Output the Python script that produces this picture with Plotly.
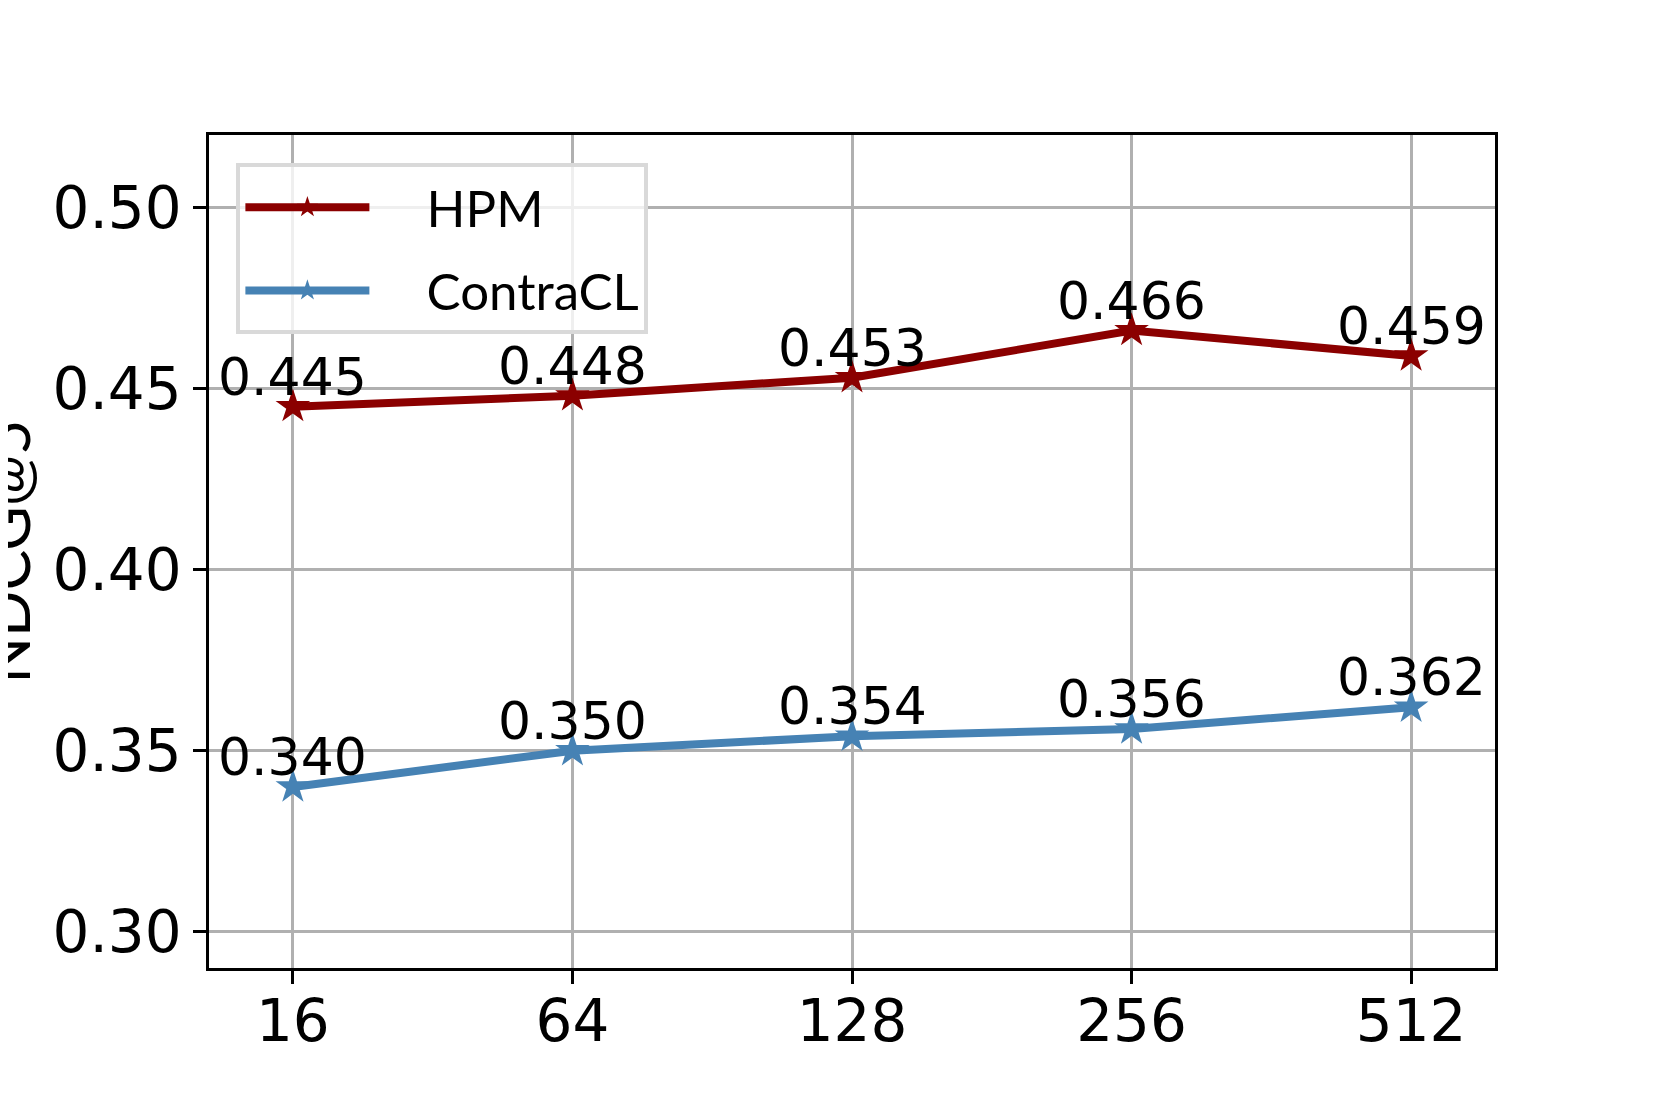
import plotly.graph_objects as go

categories = ["16", "64", "128", "256", "512"]
hpm = [0.445, 0.448, 0.453, 0.466, 0.459]
contracl = [0.340, 0.350, 0.354, 0.356, 0.362]
y_ticks = [0.30, 0.35, 0.40, 0.45, 0.50]

NB = "\u00a0"
fig = go.Figure()
annotations = []
for name, vals, color in [("HPM", hpm, "#8B0000"), ("ContraCL", contracl, "#4682B4")]:
    fig.add_trace(go.Scatter(
        x=categories, y=vals, name=NB * 4 + name, mode="lines+markers",
        legendgroup=name,
        line=dict(color=color, width=8),
        marker=dict(symbol="star", size=26, color=color, line=dict(width=0)),
        cliponaxis=False,
    ))
    for i, v in enumerate(vals):
        annotations.append(dict(
            x=i, y=v, xref="x", yref="y", text=f"{v:.3f}", showarrow=False,
            xanchor="center", yanchor="middle", yshift=30,
            font=dict(family="DejaVu Sans", size=52, color="black"),
        ))

annotations.append(dict(
    text="NDCG@5", textangle=-90, xref="paper", yref="paper",
    x=(-2 - 201) / 1286, y=0.5, xanchor="center", yanchor="middle",
    showarrow=False, font=dict(family="Lato", size=61, color="black"),
))

fig.update_layout(
    width=1661, height=1107,
    margin=dict(l=201, r=174, t=127, b=147),
    plot_bgcolor="white", paper_bgcolor="white",
    font=dict(family="DejaVu Sans", size=58, color="black"),
    showlegend=True,
    legend=dict(
        x=0.0213, y=0.9658, xanchor="left", yanchor="top",
        bgcolor="rgba(255,255,255,0.8)", bordercolor="#d9d9d9", borderwidth=4,
        font=dict(family="Lato", size=51, color="black"),
        itemwidth=124, tracegroupgap=14,
    ),
    xaxis=dict(
        type="category", range=[-0.3, 4.3],
        showgrid=True, gridcolor="#b0b0b0", gridwidth=2.5,
        showline=True, linecolor="black", linewidth=2.5, mirror=True,
        ticks="outside", ticklen=13, tickwidth=2.5, tickcolor="black",
        tickfont=dict(family="DejaVu Sans", size=58),
        ticklabelstandoff=-12,
    ),
    yaxis=dict(
        range=[0.29, 0.52], tickvals=y_ticks, ticktext=[f"{v:.2f}" for v in y_ticks],
        showgrid=True, gridcolor="#b0b0b0", gridwidth=2.5,
        showline=True, linecolor="black", linewidth=2.5, mirror=True,
        ticks="outside", ticklen=13, tickwidth=2.5, tickcolor="black",
        tickfont=dict(family="DejaVu Sans", size=58),
        zeroline=False,
    ),
    annotations=annotations,
)

fig.write_html("out.html")
